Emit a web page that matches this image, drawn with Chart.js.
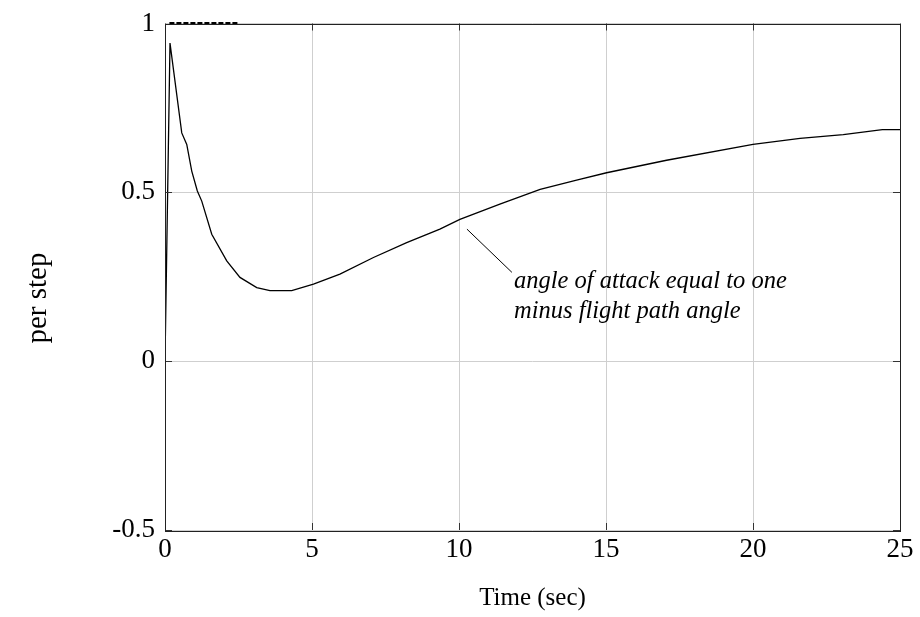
<!DOCTYPE html>
<html>
<head>
<meta charset="utf-8">
<script src="https://cdn.jsdelivr.net/npm/chart.js@4.4.0/dist/chart.umd.min.js"></script>
<style>
	html, body { margin: 0; padding: 0; background: #fff; }
	#wrap { width: 920px; height: 617px; }
</style>
</head>
<body>
<div id="wrap"><canvas id="chart"></canvas></div>
<script>
const timeData = [0, 0.17, 0.57, 0.74, 0.91, 1.10, 1.25, 1.59, 2.10, 2.55, 3.12, 3.57, 4.31, 5.05, 5.95, 7.09, 8.22, 9.35, 10.03, 11.39, 12.76, 14.0, 15.02, 17.06, 20.0, 21.6, 23.07, 24.4, 25];
const stepData = [0, 0.942, 0.676, 0.642, 0.563, 0.504, 0.474, 0.376, 0.297, 0.248, 0.218, 0.209, 0.209, 0.228, 0.258, 0.307, 0.351, 0.391, 0.42, 0.465, 0.509, 0.536, 0.558, 0.595, 0.642, 0.66, 0.671, 0.686, 0.686];
const refTime = [0.15, 2.5];
const refValue = [1, 1];

const xTicks = [0, 5, 10, 15, 20, 25];
const yTicks = [-0.5, 0, 0.5, 1];

const noteLines = ["angle of attack equal to one", "minus flight path angle"];
const noteLeader = [[10.27, 0.391], [11.8, 0.263]];
const noteAt = [11.87, 0.218];

const serif = "'Liberation Serif', 'Times New Roman', serif";

const chartPlace = document.getElementById("chart");

const extras = {
	id: "extras",
	afterDraw(chart) {
		const ctx = chart.ctx;
		const a = chart.chartArea;
		const xs = chart.scales.x;
		const ys = chart.scales.y;
		ctx.save();
		// inward ticks on all sides
		ctx.strokeStyle = "#333";
		ctx.lineWidth = 1;
		ctx.beginPath();
		xTicks.forEach((v) => {
			const px = Math.round(xs.getPixelForValue(v)) + 0.5;
			ctx.moveTo(px, a.bottom); ctx.lineTo(px, a.bottom - 7);
			ctx.moveTo(px, a.top); ctx.lineTo(px, a.top + 7);
		});
		yTicks.forEach((v) => {
			const py = Math.round(ys.getPixelForValue(v)) + 0.5;
			ctx.moveTo(a.left, py); ctx.lineTo(a.left + 7, py);
			ctx.moveTo(a.right, py); ctx.lineTo(a.right - 7, py);
		});
		ctx.stroke();
		// box
		ctx.strokeStyle = "#222";
		ctx.strokeRect(Math.round(a.left) + 0.5, Math.round(a.top) + 0.5, Math.round(a.right - a.left), Math.round(a.bottom - a.top));
		// annotation
		ctx.strokeStyle = "#000";
		ctx.beginPath();
		ctx.moveTo(xs.getPixelForValue(noteLeader[0][0]), ys.getPixelForValue(noteLeader[0][1]));
		ctx.lineTo(xs.getPixelForValue(noteLeader[1][0]), ys.getPixelForValue(noteLeader[1][1]));
		ctx.stroke();
		ctx.fillStyle = "#000";
		ctx.font = "italic 24.5px " + serif;
		ctx.textAlign = "left";
		ctx.textBaseline = "alphabetic";
		const tx = xs.getPixelForValue(noteAt[0]);
		const ty = ys.getPixelForValue(noteAt[1]);
		noteLines.forEach((s, i) => ctx.fillText(s, tx, ty + i * 30));
		// y title
		ctx.font = "29px " + serif;
		ctx.textAlign = "center";
		ctx.textBaseline = "middle";
		ctx.translate(38, 298);
		ctx.rotate(-Math.PI / 2);
		ctx.fillText("per step", 0, 0);
		ctx.restore();
	},
};

const theChart = new Chart(chartPlace, {
	type: "line",
	data: {
		datasets: [
			{
				label: "step",
				data: timeData.map((t, i) => ({ x: t, y: stepData[i] })),
				borderColor: "#000",
				borderWidth: 1.3,
				pointRadius: 0,
				tension: 0,
				fill: false,
			},
			{
				label: "ref",
				data: refTime.map((t, i) => ({ x: t, y: refValue[i] })),
				borderColor: "#000",
				borderWidth: 3,
				borderDash: [5, 2],
				pointRadius: 0,
				fill: false,
				clip: false,
			},
		],
	},
	options: {
		responsive: true,
		maintainAspectRatio: false,
		animation: false,
		layout: { padding: { top: 22, right: 20, left: 0, bottom: 0 } },
		plugins: { legend: { display: false }, tooltip: { enabled: false } },
		scales: {
			x: {
				type: "linear",
				min: 0,
				max: 25,
				afterBuildTicks: (s) => { s.ticks = xTicks.map((v) => ({ value: v })); },
				afterFit: (s) => { s.height = 87; },
				grid: { color: "#cfcfcf", drawTicks: false },
				border: { display: false },
				ticks: {
					color: "#000",
					padding: 4,
					font: { family: serif, size: 27 },
				},
				title: {
					display: true,
					text: "Time (sec)",
					color: "#000",
					padding: { top: 4 },
					font: { family: serif, size: 25 },
				},
			},
			y: {
				type: "linear",
				min: -0.5,
				max: 1,
				afterBuildTicks: (s) => { s.ticks = yTicks.map((v) => ({ value: v })); },
				afterFit: (s) => { s.width = 165; },
				grid: { color: "#cfcfcf", drawTicks: false },
				border: { display: false },
				ticks: {
					color: "#000",
					padding: 10,
					font: { family: serif, size: 27, lineHeight: 1 },
					callback: (v) => String(v),
				},
			},
		},
	},
	plugins: [extras],
});
</script>
</body>
</html>
